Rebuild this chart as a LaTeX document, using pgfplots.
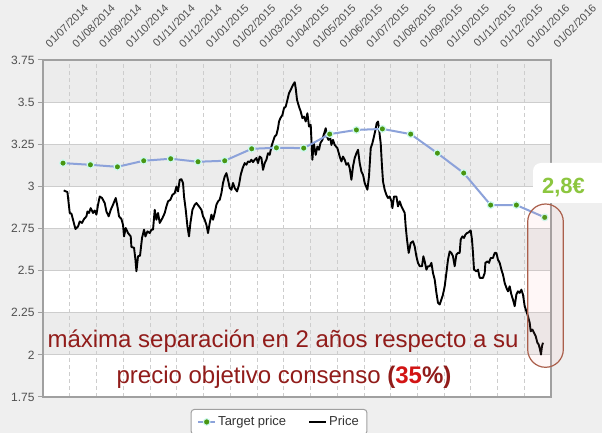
\documentclass[border=0pt]{standalone}
\usepackage{fontspec}
\setmainfont{Liberation Sans}
\usepackage{pgfplots}
\pgfplotsset{compat=1.18}
\usepackage{pgfplotstable}
\definecolor{outerbg}{RGB}{239,239,239}
\definecolor{band}{RGB}{236,236,236}
\definecolor{gridc}{RGB}{205,205,205}
\definecolor{axisc}{RGB}{160,160,160}
\definecolor{tickc}{RGB}{80,80,80}
\definecolor{tline}{RGB}{140,162,218}
\definecolor{tmark}{RGB}{72,150,18}
\definecolor{thalo}{RGB}{205,250,240}
\definecolor{annot}{RGB}{145,28,26}
\definecolor{annotred}{RGB}{210,20,20}
\definecolor{eurogreen}{RGB}{140,198,63}
\definecolor{ellc}{RGB}{170,95,75}

\pgfplotstableread{
m v
-0.224 2.976
-0.086 2.966
0.000 2.842
0.064 2.838
0.123 2.802
0.213 2.747
0.310 2.762
0.374 2.792
0.460 2.783
0.535 2.806
0.625 2.822
0.662 2.851
0.722 2.842
0.785 2.871
0.871 2.842
0.935 2.857
0.998 2.832
1.058 2.891
1.122 2.940
1.208 2.931
1.309 2.901
1.372 2.851
1.458 2.822
1.533 2.861
1.619 2.891
1.720 2.931
1.784 2.881
1.844 2.822
1.933 2.806
1.993 2.772
2.031 2.703
2.094 2.753
2.180 2.723
2.281 2.703
2.307 2.640
2.405 2.636
2.457 2.565
2.494 2.496
2.554 2.585
2.629 2.589
2.704 2.694
2.779 2.743
2.831 2.703
2.906 2.733
2.992 2.723
3.055 2.743
3.115 2.743
3.179 2.861
3.242 2.802
3.302 2.842
3.366 2.783
3.467 2.812
3.553 2.842
3.616 2.881
3.676 2.911
3.766 2.921
3.841 2.950
3.927 2.960
3.990 2.999
4.050 2.970
4.114 3.039
4.177 3.043
4.237 3.020
4.275 2.940
4.338 2.861
4.402 2.762
4.461 2.703
4.514 2.783
4.589 2.861
4.675 2.891
4.738 2.901
4.835 2.881
4.925 2.861
4.985 2.822
5.049 2.802
5.112 2.772
5.172 2.723
5.236 2.783
5.299 2.832
5.359 2.802
5.423 2.842
5.486 2.891
5.546 2.911
5.610 2.921
5.673 2.960
5.733 3.020
5.797 3.059
5.860 3.079
5.920 3.039
5.984 2.990
6.047 2.980
6.107 3.020
6.171 2.990
6.257 2.970
6.331 3.009
6.395 3.069
6.470 3.110
6.545 3.138
6.608 3.128
6.668 3.148
6.731 3.144
6.795 3.158
6.855 3.144
6.918 3.158
6.982 3.168
7.042 3.138
7.105 3.177
7.169 3.168
7.229 3.098
7.293 3.138
7.356 3.158
7.416 3.197
7.479 3.187
7.543 3.236
7.603 3.266
7.667 3.296
7.730 3.306
7.790 3.345
7.828 3.385
7.880 3.405
7.954 3.424
8.014 3.464
8.078 3.473
8.141 3.513
8.201 3.553
8.291 3.582
8.351 3.602
8.414 3.618
8.452 3.582
8.501 3.513
8.575 3.473
8.639 3.444
8.702 3.405
8.762 3.414
8.826 3.385
8.889 3.434
8.949 3.355
9.013 3.365
9.076 3.158
9.125 3.257
9.200 3.187
9.264 3.236
9.323 3.217
9.376 3.257
9.451 3.276
9.499 3.306
9.574 3.345
9.623 3.296
9.675 3.276
9.723 3.306
9.787 3.246
9.847 3.276
9.910 3.246
10.011 3.227
10.097 3.177
10.161 3.148
10.221 3.177
10.284 3.158
10.348 3.128
10.411 3.138
10.471 3.108
10.535 3.039
10.595 3.118
10.658 3.168
10.722 3.197
10.782 3.217
10.845 3.138
10.909 3.088
10.969 3.069
11.032 3.020
11.133 2.980
11.193 3.059
11.257 3.227
11.320 3.257
11.380 3.296
11.433 3.335
11.481 3.375
11.530 3.385
11.567 3.345
11.593 3.306
11.630 3.257
11.679 3.118
11.717 3.029
11.780 2.980
11.844 2.950
11.904 2.931
11.967 2.940
12.031 2.911
12.068 2.871
12.128 2.940
12.218 2.940
12.277 2.881
12.341 2.911
12.405 2.881
12.468 2.861
12.528 2.842
12.565 2.762
12.614 2.684
12.678 2.605
12.752 2.664
12.838 2.674
12.902 2.644
12.965 2.585
13.025 2.546
13.089 2.526
13.175 2.526
13.227 2.585
13.276 2.555
13.340 2.506
13.400 2.526
13.463 2.526
13.527 2.546
13.586 2.486
13.650 2.447
13.714 2.368
13.773 2.309
13.837 2.299
13.900 2.328
13.960 2.358
14.024 2.407
14.087 2.486
14.147 2.565
14.211 2.614
14.274 2.605
14.334 2.585
14.398 2.526
14.461 2.595
14.521 2.605
14.585 2.605
14.622 2.684
14.686 2.703
14.746 2.694
14.798 2.713
14.858 2.723
14.922 2.727
14.996 2.739
15.045 2.684
15.082 2.605
15.120 2.506
15.209 2.496
15.269 2.506
15.333 2.457
15.456 2.457
15.520 2.486
15.546 2.546
15.621 2.555
15.681 2.546
15.744 2.575
15.830 2.575
15.894 2.605
15.957 2.605
16.017 2.565
16.081 2.546
16.144 2.506
16.204 2.476
16.268 2.427
16.331 2.398
16.391 2.377
16.455 2.407
16.518 2.358
16.578 2.328
16.642 2.289
16.705 2.358
16.765 2.377
16.829 2.368
16.892 2.387
16.952 2.358
17.016 2.289
17.079 2.259
17.139 2.229
17.203 2.190
17.240 2.140
17.304 2.150
17.364 2.131
17.427 2.111
17.491 2.072
17.539 2.062
17.588 2.032
17.625 2.002
17.663 2.052
17.700 2.072
}\pricedata

\pgfplotstableread{
m v
-0.251 3.138
0.774 3.128
1.784 3.116
2.767 3.152
3.777 3.164
4.798 3.146
5.797 3.152
6.806 3.223
7.730 3.229
8.751 3.227
9.723 3.310
10.722 3.335
11.694 3.341
12.752 3.310
13.751 3.197
14.735 3.079
15.744 2.889
16.705 2.889
17.764 2.816
}\targetdata

\begin{document}
\begin{tikzpicture}
\fill[outerbg] (0,0) rectangle (602pt,433pt);
\begin{axis}[
  at={(43pt,36pt)}, anchor=south west,
  scale only axis, width=508pt, height=337pt,
  xmin=-1, xmax=18, ymin=1.75, ymax=3.75,
  clip=false, axis on top,
  axis line style={draw=axisc, line width=1.6pt},
  xtick={0,...,18},
  xticklabels={01/07/2014,01/08/2014,01/09/2014,01/10/2014,01/11/2014,01/12/2014,01/01/2015,01/02/2015,01/03/2015,01/04/2015,01/05/2015,01/06/2015,01/07/2015,01/08/2015,01/09/2015,01/10/2015,01/11/2015,01/12/2015,01/01/2016},
  xticklabel pos=upper,
  xtick style={draw=none},
  ytick={1.75,2,2.25,2.5,2.75,3,3.25,3.5,3.75},
  yticklabels={1.75,2,2.25,2.5,2.75,3,3.25,3.5,3.75},
  ytick pos=left,
  ytick style={draw=axisc, line width=1pt},
  tick align=outside, major tick length=5pt,
  /pgf/number format/assume math mode=true,
  yticklabel style={font=\fontsize{12}{14}\selectfont, text=tickc},
  xticklabel style={font=\fontsize{11}{12}\selectfont, text=tickc, anchor=center, xshift=-3pt, yshift=29pt, rotate=45},
  legend columns=2,
  legend style={at={(0.4646,-0.0356)}, anchor=north, draw=axisc, line width=1pt, rounded corners=3pt, fill=white,
    font=\fontsize{13}{15}\selectfont, text=black!80,
    /tikz/every even column/.append style={column sep=20pt}, inner xsep=6pt, inner ysep=5pt},
]
\fill[white] (axis cs:-1,1.75) rectangle (axis cs:18,3.75);
\fill[band] (axis cs:-1,3.5) rectangle (axis cs:18,3.75);
\fill[band] (axis cs:-1,3.0) rectangle (axis cs:18,3.25);
\fill[band] (axis cs:-1,2.5) rectangle (axis cs:18,2.75);
\fill[band] (axis cs:-1,2.0) rectangle (axis cs:18,2.25);
\pgfplotsinvokeforeach{2,2.25,2.5,2.75,3,3.25,3.5}{\draw[gridc, line width=0.8pt] (axis cs:-1,#1) -- (axis cs:18,#1);}
\pgfplotsinvokeforeach{0,...,17}{\draw[gridc, line width=0.6pt, dash pattern=on 4pt off 3pt] (axis cs:#1,1.75) -- (axis cs:#1,3.75);}

\addlegendimage{tline, line width=2pt, mark=*, mark size=3.3pt, mark options={fill=tmark, draw=thalo, line width=1pt, solid}}
\addlegendentry{Target price}
\addlegendimage{black, line width=2pt}
\addlegendentry{Price}

\addplot[black, line width=1.9pt, line join=round, forget plot] table[x=m, y=v] {\pricedata};
\addplot[tline, line width=2pt, mark=*, mark size=3.3pt, mark options={fill=tmark, draw=thalo, line width=1.2pt, solid}, forget plot] table[x=m, y=v] {\targetdata};

\node[font=\fontsize{11}{12}\selectfont, text=tickc, anchor=center, xshift=-3pt, yshift=34pt, rotate=45] at (axis cs:19,3.75) {01/02/2016};
\end{axis}

% 2,8 euro bubble
\fill[white, rounded corners=8pt] (533pt,230pt) rectangle (620pt,270pt);
\node[font=\fontsize{22}{24}\selectfont\bfseries, text=eurogreen] at (563.5pt,245pt) {2,8€};
% highlight ellipse
\draw[ellc, line width=1.2pt, fill=red!40, fill opacity=0.07, rounded corners=17.8pt] (527.7pt,65.7pt) rectangle (563.3pt,229pt);
% annotation text
\node[anchor=base, font=\fontsize{24}{26}\selectfont, text=annot] at (283pt,85pt) {máxima separación en 2 años respecto a su};
\node[anchor=base, font=\fontsize{24}{26}\selectfont, text=annot] at (284pt,49pt) {precio objetivo consenso \textbf{(\textcolor{annotred}{35}\%)}};

\pgfresetboundingbox
\useasboundingbox (0,0) rectangle (602pt,433pt);
\end{tikzpicture}
\end{document}
